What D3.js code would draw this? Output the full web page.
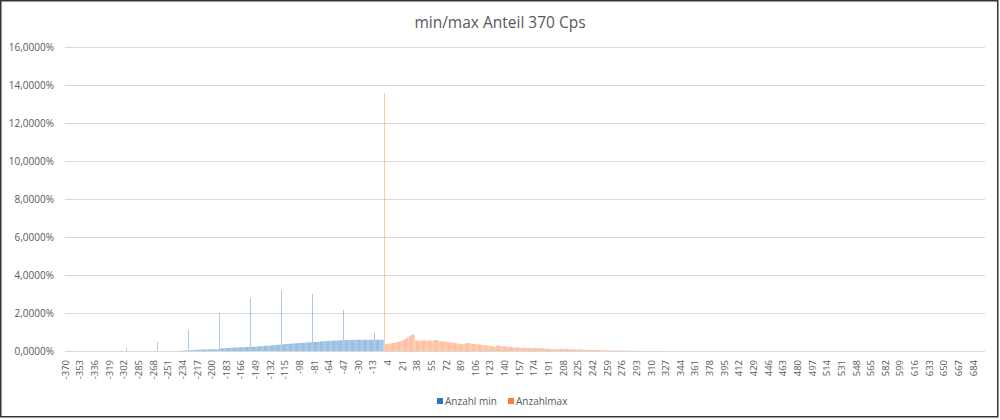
<!DOCTYPE html>
<html>
<head>
<meta charset="utf-8">
<script src="https://cdn.jsdelivr.net/npm/d3@7"></script>
<style>
  body { margin: 0; background: #fff; }
  svg { display: block; }
  text { font-family: "Open Sans", "Liberation Sans", sans-serif; fill: #595959; }
</style>
</head>
<body>
<svg id="chart" width="1000" height="420"></svg>
<script>
// category axis: every integer from -370 up to 697
const categories = d3.range(-370, 698);
const seriesNames = ["Anzahl min", "Anzahlmax"];
const yTicks = [0, 2, 4, 6, 8, 10, 12, 14, 16];

// values in hundredths of a percent, one per category, starting at minStart / maxStart
const minStart = -300;
const minValues = [
  0, 16, 0, 0, 0, 0, 0, 0, 0, 0,
  0, 0, 0, 0, 0, 0, 0, 0, 0, 0,
  0, 0, 0, 0, 0, 0, 0, 0, 0, 0,
  0, 0, 0, 0, 0, 0, 0, 49, 0, 0,
  0, 0, 0, 0, 0, 0, 0, 0, 0, 0,
  0, 0, 0, 0, 0, 0, 0, 0, 0, 0,
  0, 0, 0, 0, 1, 1, 1, 2, 2, 2,
  2, 3, 3, 112, 3, 4, 4, 4, 5, 5,
  5, 5, 6, 6, 6, 6, 7, 7, 7, 7,
  7, 8, 8, 8, 8, 8, 8, 9, 9, 9,
  9, 9, 9, 9, 9, 9, 9, 9, 9, 200,
  13, 14, 14, 14, 14, 15, 15, 15, 16, 16,
  16, 16, 17, 17, 17, 17, 18, 18, 18, 18,
  19, 19, 19, 19, 20, 20, 20, 20, 20, 21,
  21, 21, 21, 21, 21, 279, 22, 22, 22, 23,
  23, 23, 24, 24, 24, 25, 25, 25, 26, 26,
  26, 27, 27, 27, 28, 28, 28, 29, 29, 29,
  30, 30, 30, 31, 31, 31, 32, 32, 33, 33,
  34, 321, 35, 35, 36, 36, 36, 37, 37, 37,
  38, 38, 38, 39, 39, 40, 40, 40, 41, 41,
  41, 42, 42, 42, 43, 43, 43, 44, 44, 44,
  45, 45, 45, 46, 46, 46, 46, 300, 47, 47,
  48, 48, 48, 49, 49, 49, 50, 50, 50, 51,
  51, 51, 52, 52, 52, 53, 53, 53, 54, 54,
  54, 54, 55, 55, 55, 55, 56, 56, 56, 56,
  56, 57, 57, 215, 57, 57, 57, 57, 58, 58,
  58, 58, 58, 58, 58, 58, 58, 59, 59, 59,
  59, 59, 59, 59, 59, 59, 59, 59, 59, 59,
  59, 59, 59, 59, 59, 59, 59, 59, 59, 97,
  59, 59, 59, 59, 59, 59, 59, 59, 59, 59
];

const maxStart = 0;
const maxValues = [
  1356, 35, 36, 36, 37, 38, 39, 40, 40, 41,
  42, 43, 44, 45, 46, 47, 48, 49, 50, 52,
  54, 56, 58, 60, 62, 65, 68, 71, 74, 77,
  80, 83, 85, 87, 88, 86, 55, 55, 54, 54,
  54, 54, 55, 55, 55, 54, 54, 55, 55, 55,
  54, 54, 55, 55, 54, 54, 53, 56, 58, 59,
  58, 57, 56, 53, 52, 52, 51, 51, 50, 50,
  49, 49, 48, 48, 47, 46, 46, 45, 45, 44,
  44, 43, 42, 42, 41, 40, 39, 38, 38, 37,
  36, 36, 35, 38, 40, 42, 42, 42, 41, 41,
  40, 39, 38, 38, 37, 37, 36, 36, 35, 35,
  34, 34, 33, 32, 32, 31, 30, 30, 29, 29,
  28, 28, 27, 26, 26, 25, 24, 23, 22, 22,
  28, 29, 30, 29, 28, 27, 26, 26, 25, 25,
  24, 24, 23, 23, 22, 22, 21, 21, 20, 20,
  20, 19, 19, 19, 18, 18, 18, 18, 17, 17,
  17, 16, 16, 16, 16, 16, 16, 16, 15, 15,
  15, 15, 16, 16, 16, 15, 15, 15, 15, 15,
  15, 15, 14, 14, 14, 14, 13, 13, 11, 11,
  11, 11, 11, 10, 10, 10, 10, 10, 10, 10,
  10, 10, 10, 11, 11, 11, 11, 11, 10, 10,
  10, 10, 10, 9, 9, 9, 9, 9, 9, 8,
  8, 8, 8, 8, 8, 8, 8, 8, 8, 7,
  7, 7, 7, 7, 6, 6, 6, 6, 6, 6,
  5, 5, 5, 5, 5, 5, 5, 5, 5, 4,
  4, 4, 4, 4, 4, 4, 4, 4, 4, 4,
  4, 3, 3, 3, 3, 3, 3, 3, 3, 3,
  3, 3, 3, 3, 2, 2, 2, 2, 2, 2,
  2, 2, 2, 2, 2, 1, 2, 1, 2, 1,
  1, 1, 1, 1, 1, 0, 1, 1, 0, 1,
  1, 0, 0, 1, 0, 0, 1, 0, 0, 0,
  0, 1, 0, 0, 0, 0, 0, 0, 0, 1
];

const colors = { "Anzahl min": "#2478c4", "Anzahlmax": "#fb7b38" };

const width = 1000;
const height = 420;
const margin = { top: 47, right: 15, bottom: 69, left: 65 };

const svg = d3.select("#chart");

// outer frame of the chart
svg.append("rect")
  .attr("x", 0.75).attr("y", 0.75)
  .attr("width", 997).attr("height", 416)
  .attr("fill", "#fff")
  .attr("stroke", "#333")
  .attr("stroke-width", 1.5);

const x = d3.scaleBand()
  .domain(categories)
  .range([margin.left, width - margin.right])
  .padding(0);

const x1 = d3.scaleBand()
  .domain(seriesNames)
  .range([0, x.bandwidth()])
  .paddingInner(0)
  .paddingOuter(0.1);

const y = d3.scaleLinear()
  .domain([0, 16])
  .range([height - margin.bottom, margin.top]);

const de = d3.formatLocale({ decimal: ",", thousands: ".", grouping: [3], currency: ["", "€"] });
const fmt = de.format(".4f");

// gridlines + y labels
const yAxis = svg.append("g").attr("class", "y-axis");
yAxis.selectAll("line")
  .data(yTicks)
  .join("line")
  .attr("x1", margin.left)
  .attr("x2", width - margin.right)
  .attr("y1", (d) => Math.round(y(d)) + 0.5)
  .attr("y2", (d) => Math.round(y(d)) + 0.5)
  .attr("stroke", "#d9d9d9")
  .attr("stroke-width", 1);

yAxis.selectAll("text")
  .data(yTicks)
  .join("text")
  .attr("x", 54)
  .attr("y", (d) => y(d))
  .attr("dy", "0.35em")
  .attr("text-anchor", "end")
  .style("font-size", "10px")
  .text((d) => fmt(d) + "%");

// rows for the bars
const rows = [];
minValues.forEach((v, i) => {
  if (v > 0) rows.push({ cat: minStart + i, series: "Anzahl min", value: v / 100 });
});
maxValues.forEach((v, i) => {
  if (v > 0) rows.push({ cat: maxStart + i, series: "Anzahlmax", value: v / 100 });
});

svg.append("g")
  .attr("class", "plot-area")
  .selectAll("rect")
  .data(rows)
  .join("rect")
  .attr("x", (d) => x(d.cat) + x1(d.series))
  .attr("width", x1.bandwidth())
  .attr("y", (d) => y(d.value))
  .attr("height", (d) => y(0) - y(d.value))
  .attr("fill", (d) => colors[d.series]);

// x labels, every 17th category
const xTicks = categories.filter((d, i) => i % 17 === 0);
svg.append("g")
  .attr("class", "x-axis")
  .selectAll("text")
  .data(xTicks)
  .join("text")
  .attr("transform", (d) => `translate(${x(d) + x.bandwidth() / 2},360) rotate(-90)`)
  .attr("dy", "0.35em")
  .attr("text-anchor", "end")
  .style("font-size", "9.5px")
  .text((d) => d);

// title
svg.append("text")
  .attr("x", 500)
  .attr("y", 28)
  .attr("text-anchor", "middle")
  .style("font-size", "15.5px")
  .text("min/max Anteil 370 Cps");

// legend
const legend = svg.append("g").attr("class", "legend");
const legendX = [437, 508];
seriesNames.forEach((name, i) => {
  legend.append("rect")
    .attr("x", legendX[i]).attr("y", 398)
    .attr("width", 6).attr("height", 6)
    .attr("fill", colors[name]);
  legend.append("text")
    .attr("x", legendX[i] + 8)
    .attr("y", 401)
    .attr("dy", "0.35em")
    .style("font-size", "10px")
    .text(name);
});
</script>
</body>
</html>
